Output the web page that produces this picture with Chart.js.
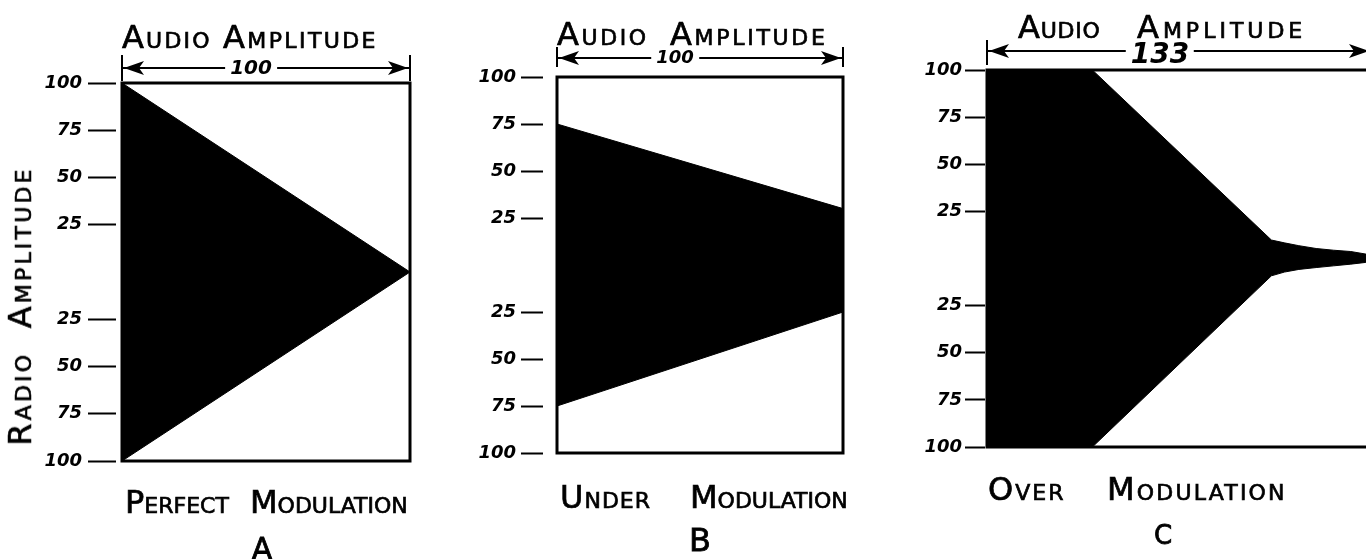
<!DOCTYPE html>
<html>
<head>
<meta charset="utf-8">
<script src="https://cdn.jsdelivr.net/npm/chart.js@4"></script>
<style>
  html, body { margin: 0; padding: 0; background: #fff; }
  body { width: 1366px; height: 559px; overflow: hidden; position: relative; font-family: "DejaVu Sans", sans-serif; color: #000; }
  canvas { position: absolute; top: 0; }
  .lbl { position: absolute; white-space: nowrap; font-variant: small-caps; line-height: 1; font-size: 32px; -webkit-text-stroke: 0.7px #000; }
  .num { position: absolute; white-space: nowrap; font-style: italic; font-weight: bold; line-height: 1; background: #fff; padding: 0 5px; transform: translateX(-50%); }
  .big { position: absolute; white-space: nowrap; line-height: 1; transform: translateX(-50%); -webkit-text-stroke: 0.8px #000; }
</style>
</head>
<body>

<canvas id="chartA" width="440" height="559" style="left:0px;width:440px;height:559px"></canvas>
<canvas id="chartB" width="420" height="559" style="left:450px;width:420px;height:559px"></canvas>
<canvas id="chartC" width="470" height="559" style="left:910px;width:470px;height:559px"></canvas>

<!-- titles -->
<div class="lbl" style="left:122px;top:21px;letter-spacing:2.2px">Audio</div>
<div class="lbl" style="left:223px;top:21px;letter-spacing:2.4px">Amplitude</div>
<div class="lbl" style="left:557px;top:18px;letter-spacing:2.6px">Audio</div>
<div class="lbl" style="left:670px;top:18px;letter-spacing:2.7px">Amplitude</div>
<div class="lbl" style="left:1018px;top:11px;letter-spacing:0.8px">Audio</div>
<div class="lbl" style="left:1137px;top:11px;letter-spacing:4px">Amplitude</div>

<!-- dimension numbers -->
<div class="num" style="left:251px;top:57px;font-size:20px">100</div>
<div class="num" style="left:675px;top:48px;font-size:18px">100</div>
<div class="num" style="left:1160px;top:40px;font-size:28px">133</div>

<!-- side label -->
<div class="lbl" style="left:20px;top:306px;letter-spacing:3.2px;word-spacing:10px;transform:translate(-50%,-50%) rotate(-90deg)">Radio Amplitude</div>

<!-- bottom captions -->
<div class="lbl" style="left:125px;top:486px">Perfect</div>
<div class="lbl" style="left:250px;top:486px">Modulation</div>
<div class="big" style="left:262px;top:534px;font-size:30px">A</div>
<div class="lbl" style="left:560px;top:481px;letter-spacing:1px">Under</div>
<div class="lbl" style="left:690px;top:481px">Modulation</div>
<div class="big" style="left:700px;top:524px;font-size:32px">B</div>
<div class="lbl" style="left:988px;top:473px;letter-spacing:2px">Over</div>
<div class="lbl" style="left:1107px;top:473px;letter-spacing:2.2px">Modulation</div>
<div class="big" style="left:1163px;top:522px;font-size:26px">C</div>

<script>
// y ticks (radio amplitude), no label at the centre line
const yTickValues = [100, 75, 50, 25, -25, -50, -75, -100];
const yTickLabels = ["100", "75", "50", "25", "25", "50", "75", "100"];

// A - perfect modulation
const aAudio = [0, 100];
const aUpper = [100, 0];
const aLower = [-100, 0];

// B - under modulation
const bAudio = [0, 100];
const bUpper = [75, 30];
const bLower = [-75, -25];

// C - over modulation (audio axis runs to 133)
const cAudio = [0, 36.5, 98.5, 103, 108, 114, 120, 126, 131, 133];
const cUpper = [100, 100, 9.8, 8.3, 6.8, 5.3, 4.4, 3.7, 2.4, 2.2];
const cLower = [-100, -100, -9.2, -7.2, -5.8, -4.8, -3.9, -3.0, -2.1, -2];

// box round the plot area
const boxPlugin = {
  id: "box",
  afterDatasetsDraw(chart) {
    const a = chart.chartArea, ctx = chart.ctx;
    ctx.save();
    ctx.lineWidth = 3;
    ctx.strokeStyle = "#000";
    ctx.strokeRect(a.left, a.top, a.right - a.left, a.bottom - a.top);
    ctx.restore();
  }
};

// the "<---- 100 ---->" dimension line above the box
const dimPlugin = {
  id: "dim",
  afterDraw(chart, args, opts) {
    const a = chart.chartArea, ctx = chart.ctx;
    const y = a.top - opts.offset;
    ctx.save();
    ctx.strokeStyle = "#000";
    ctx.fillStyle = "#000";
    ctx.lineWidth = 2;
    ctx.beginPath();
    ctx.moveTo(a.left, y - opts.up); ctx.lineTo(a.left, y + opts.down);
    ctx.moveTo(a.right, y - opts.up); ctx.lineTo(a.right, y + opts.down);
    ctx.moveTo(a.left, y); ctx.lineTo(a.right, y);
    ctx.stroke();
    [[a.left, 1], [a.right, -1]].forEach(([x, d]) => {
      ctx.beginPath();
      ctx.moveTo(x + d * 2, y);
      ctx.lineTo(x + d * 22, y - 7);
      ctx.lineTo(x + d * 17, y);
      ctx.lineTo(x + d * 22, y + 7);
      ctx.closePath();
      ctx.fill();
    });
    ctx.restore();
  }
};

function pts(xs, ys) {
  return xs.map((x, i) => ({ x: x, y: ys[i] }));
}

function makePanel(id, p) {
  new Chart(document.getElementById(id), {
    type: "line",
    data: {
      datasets: [
        { data: pts(p.xs, p.up), fill: "+1" },
        { data: pts(p.xs, p.lo), fill: false }
      ]
    },
    options: {
      responsive: false,
      animation: false,
      layout: { padding: { top: p.top, bottom: p.bottom, right: p.right, left: 0 } },
      elements: {
        line: { borderColor: "#000", backgroundColor: "#000", borderWidth: 1, tension: 0 },
        point: { radius: 0 }
      },
      scales: {
        x: { type: "linear", min: 0, max: p.xMax, display: false },
        y: {
          min: -100, max: 100,
          afterFit: (s) => { s.width = p.axisW; },
          afterBuildTicks: (s) => { s.ticks = yTickValues.map(v => ({ value: v })); },
          border: { display: false },
          grid: {
            drawOnChartArea: false,
            tickLength: p.tickLen,
            tickWidth: 2,
            tickColor: "#000",
            tickBorderDash: [p.dash, 200]
          },
          ticks: {
            padding: p.pad,
            color: "#000",
            font: { family: "DejaVu Sans", size: 18, style: "italic", weight: "bold" },
            callback: (v, i) => yTickLabels[i]
          }
        }
      },
      plugins: {
        legend: { display: false },
        tooltip: { enabled: false },
        dim: p.dim
      }
    },
    plugins: [boxPlugin, dimPlugin]
  });
}

makePanel("chartA", {
  xs: aAudio, up: aUpper, lo: aLower, xMax: 100,
  top: 83, bottom: 98, right: 30, axisW: 122, tickLen: 34, dash: 28, pad: 6,
  dim: { offset: 15, up: 13, down: 13 }
});
makePanel("chartB", {
  xs: bAudio, up: bUpper, lo: bLower, xMax: 100,
  top: 77, bottom: 106, right: 27, axisW: 107, tickLen: 36, dash: 22, pad: 5,
  dim: { offset: 19, up: 11, down: 9 }
});
makePanel("chartC", {
  xs: cAudio, up: cUpper, lo: cLower, xMax: 133,
  top: 70, bottom: 112, right: 9, axisW: 77, tickLen: 22, dash: 20, pad: 3,
  dim: { offset: 19, up: 11, down: 14 }
});
</script>
</body>
</html>
